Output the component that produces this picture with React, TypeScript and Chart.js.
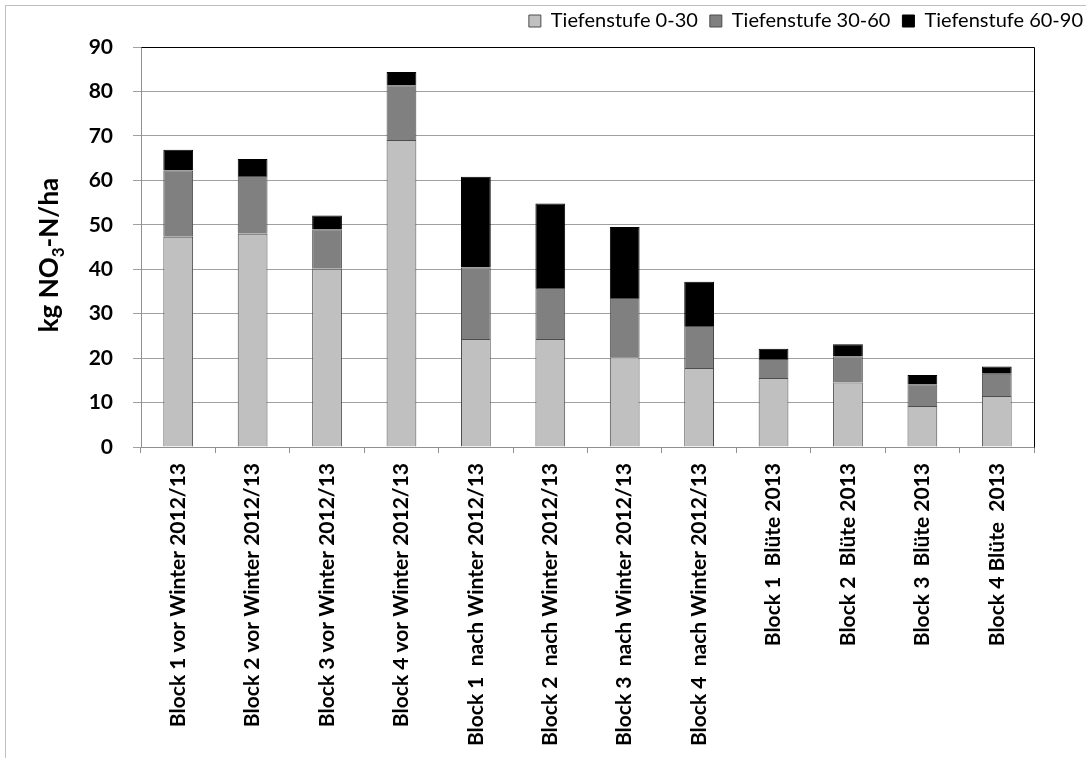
import React, { useEffect, useRef } from "react";
import { Chart, registerables } from "chart.js";

Chart.register(...registerables);

const categories: string[] = [
  "Block 1 vor Winter 2012/13",
  "Block 2 vor Winter 2012/13",
  "Block 3 vor Winter 2012/13",
  "Block 4 vor Winter 2012/13",
  "Block 1  nach Winter 2012/13",
  "Block 2  nach Winter 2012/13",
  "Block 3  nach Winter 2012/13",
  "Block 4  nach Winter 2012/13",
  "Block 1  Blüte 2013",
  "Block 2  Blüte 2013",
  "Block 3  Blüte 2013",
  "Block 4 Blüte  2013",
];

const depth0to30: number[] = [47.3, 48.0, 40.1, 69.1, 24.3, 24.3, 20.2, 17.8, 15.5, 14.5, 9.2, 11.5];
const depth30to60: number[] = [14.9, 13.0, 8.9, 12.3, 16.1, 11.5, 13.3, 9.4, 4.3, 5.9, 4.9, 5.0];
const depth60to90: number[] = [4.7, 3.8, 3.1, 3.0, 20.4, 19.0, 16.0, 10.0, 2.3, 2.7, 2.1, 1.6];

const seriesLabels: string[] = ["Tiefenstufe 0-30", "Tiefenstufe 30-60", "Tiefenstufe 60-90"];
const yTicks: number[] = [0, 10, 20, 30, 40, 50, 60, 70, 80, 90];
const yTitleParts: string[] = ["kg NO", "3", "-N/ha"];

const FONT = "Lato, 'Open Sans', 'DejaVu Sans', sans-serif";

export default function App() {
  const canvasRef = useRef<HTMLCanvasElement | null>(null);

  useEffect(() => {
    const canvas = canvasRef.current;
    if (!canvas) return;

    const framePlugin = {
      id: "frame",
      afterDraw(chart: any) {
        const { ctx, chartArea } = chart;
        ctx.save();
        ctx.strokeStyle = "#000000";
        ctx.lineWidth = 1;
        ctx.beginPath();
        ctx.moveTo(Math.round(chartArea.left) + 0.5, Math.round(chartArea.top) + 0.5);
        ctx.lineTo(Math.round(chartArea.right) + 0.5, Math.round(chartArea.top) + 0.5);
        ctx.lineTo(Math.round(chartArea.right) + 0.5, Math.round(chartArea.bottom) + 0.5);
        ctx.stroke();
        ctx.restore();

        // y-axis title with subscript
        const mainFont = `bold 26px ${FONT}`;
        const subFont = `bold 17px ${FONT}`;
        ctx.save();
        ctx.fillStyle = "#000000";
        ctx.textBaseline = "alphabetic";
        ctx.textAlign = "left";
        ctx.font = mainFont;
        const w0 = ctx.measureText(yTitleParts[0]).width;
        const w2 = ctx.measureText(yTitleParts[2]).width;
        ctx.font = subFont;
        const w1 = ctx.measureText(yTitleParts[1]).width;
        const total = w0 + w1 + w2;
        const cx = 58;
        const cy = 255;
        ctx.translate(cx, cy);
        ctx.rotate(-Math.PI / 2);
        let x = -total / 2;
        ctx.font = mainFont;
        ctx.fillText(yTitleParts[0], x, 0);
        x += w0;
        ctx.font = subFont;
        ctx.fillText(yTitleParts[1], x, 6);
        x += w1;
        ctx.font = mainFont;
        ctx.fillText(yTitleParts[2], x, 0);
        ctx.restore();
      },
    };

    const chart = new Chart(canvas, {
      type: "bar",
      data: {
        labels: categories,
        datasets: [
          {
            label: seriesLabels[0],
            data: depth0to30,
            backgroundColor: "#c0c0c0",
            borderColor: "#4d4d4d",
            borderWidth: 1,
          },
          {
            label: seriesLabels[1],
            data: depth30to60,
            backgroundColor: "#808080",
            borderColor: "#4d4d4d",
            borderWidth: 1,
          },
          {
            label: seriesLabels[2],
            data: depth60to90,
            backgroundColor: "#000000",
            borderColor: "#000000",
            borderWidth: 1,
          },
        ],
      },
      plugins: [framePlugin],
      options: {
        responsive: false,
        animation: false,
        maintainAspectRatio: false,
        layout: { padding: { left: 0, right: -9, top: -1, bottom: 0 } },
        datasets: {
          bar: { barPercentage: 0.4, categoryPercentage: 1.0 },
        },
        plugins: {
          legend: {
            position: "top",
            align: "end",
            labels: {
              boxWidth: 12,
              boxHeight: 12,
              padding: 12,
              color: "#000000",
              font: { family: FONT, size: 20 },
            },
          },
          tooltip: { enabled: false },
        },
        scales: {
          x: {
            stacked: true,
            grid: {
              display: true,
              drawOnChartArea: false,
              drawTicks: true,
              tickLength: 6,
              color: "#909090",
              offset: true,
            },
            border: { display: true, color: "#909090" },
            ticks: {
              minRotation: 90,
              maxRotation: 90,
              autoSkip: false,
              padding: 10,
              color: "#000000",
              font: { family: FONT, size: 21, weight: "bold" },
            },
            afterFit: (scale: any) => {
              scale.height = 311;
            },
          },
          xTopSpacer: {
            position: "top",
            display: true,
            grid: { display: false, drawTicks: false },
            border: { display: false },
            ticks: { display: false },
            afterFit: (scale: any) => {
              scale.height = 6;
            },
          },
          y: {
            stacked: true,
            min: 0,
            max: 90,
            afterBuildTicks: (scale: any) => {
              scale.ticks = yTicks.map((v) => ({ value: v }));
            },
            grid: {
              color: "#a0a0a0",
              drawTicks: true,
              tickLength: 8,
            },
            border: { display: true, color: "#909090" },
            ticks: {
              padding: 20,
              color: "#000000",
              font: { family: FONT, size: 21, weight: "bold" },
            },
            afterFit: (scale: any) => {
              scale.width = 141;
            },
          },
          yRight: {
            position: "right",
            display: true,
            grid: { display: false, drawTicks: false },
            border: { display: false },
            ticks: { display: false },
            afterFit: (scale: any) => {
              scale.width = 61;
            },
          },
        },
      },
    });

    return () => {
      chart.destroy();
    };
  }, []);

  return (
    <div
      style={{
        position: "absolute",
        left: 0,
        top: 0,
        width: 1086,
        height: 758,
        overflow: "hidden",
        background: "#ffffff",
      }}
    >
      <div
        style={{
          position: "absolute",
          left: 5,
          top: 5,
          width: 1200,
          height: 900,
          border: "1px solid #bfbfbf",
        }}
      />
      <canvas
        ref={canvasRef}
        width={1086}
        height={758}
        style={{ position: "absolute", left: 0, top: 0, width: 1086, height: 758 }}
      />
    </div>
  );
}
